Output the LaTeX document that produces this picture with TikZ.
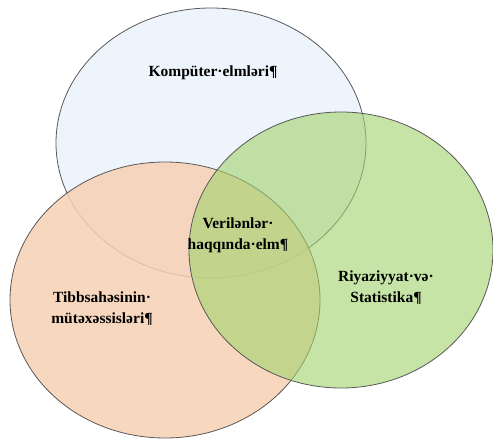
\documentclass[tikz,border=0pt]{standalone}
\usepackage{fontspec}
\setmainfont{Liberation Serif}
\usepackage{xcolor}
\usepackage{tikz}
\usetikzlibrary{shapes.geometric}
\definecolor{compblue}{HTML}{EEF4FB}
\definecolor{medorange}{HTML}{F7D0B4}
\definecolor{mathgreen}{HTML}{A0D26B}
\tikzstyle{venn} = [ellipse, inner sep=0pt, draw=black!65, line width=0.8pt]
\tikzstyle{settext} = [align=center, font=\fontsize{15.5}{21}\selectfont\bfseries, inner sep=0pt]

\begin{document}
\begin{tikzpicture}[x=1pt, y=-1pt]

    \useasboundingbox (0,0) rectangle (493,439);

    % Sets
    \node (comp) [venn, fill=compblue, minimum width=310pt, minimum height=270pt] at (211,143) {};
    \node (med) [venn, fill=medorange, fill opacity=0.85, minimum width=310pt, minimum height=276pt] at (165,300) {};
    \node (math) [venn, fill=mathgreen, fill opacity=0.6, minimum width=304pt, minimum height=276pt] at (341,250) {};

    % Labels
    \node (comptext) [settext] at (213,73) {Kompüter·elmləri¶};
    \node (datatext) [settext] at (238,235) {Verilənlər·\\haqqında·elm¶};
    \node (medtext) [settext] at (102,309) {Tibbsahəsinin·\\mütəxəssisləri¶};
    \node (mathtext) [settext] at (386,288) {Riyaziyyat·və·\\Statistika¶};

\end{tikzpicture}
\end{document}
